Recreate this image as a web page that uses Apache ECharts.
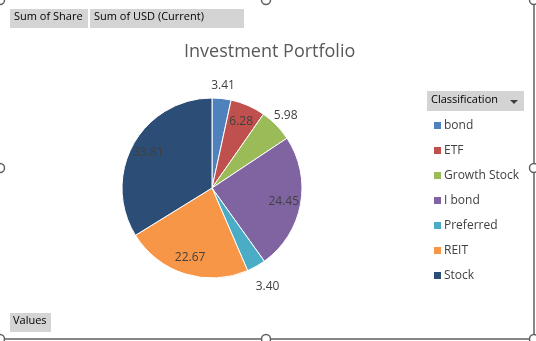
<!DOCTYPE html>
<html><head><meta charset="utf-8">
<script src="https://cdn.jsdelivr.net/npm/echarts@6/dist/echarts.min.js"></script>
<style>html,body{margin:0;padding:0;background:#fff}#c{width:536px;height:341px}</style>
</head><body><div id="c"></div>
<script>
const categories = ['bond','ETF','Growth Stock','I bond','Preferred','REIT','Stock'];
const shareValues = [3.41, 6.28, 5.98, 24.45, 3.40, 22.67, 33.81];
const colors = ['#4f81bd','#c0504d','#9bbb59','#8064a2','#4bacc6','#f79646','#2c4d75'];
const titleText = 'Investment Portfolio';
const legendTitle = 'Classification';
const fieldButtons = ['Sum of Share', 'Sum of USD (Current)'];
const valuesButton = 'Values';

const center = [212, 188];
const R = 90;
const font = '"Open Sans", sans-serif';

function labelPie(radius, showIdx) {
  return {
    type: 'pie', silent: true, center: center, radius: radius,
    startAngle: 90, avoidLabelOverlap: false, animation: false, z: 5,
    itemStyle: { color: 'rgba(0,0,0,0)', borderWidth: 0 },
    emphasis: { disabled: true },
    labelLine: { show: false },
    labelLayout: { hideOverlap: false },
    data: categories.map((n, i) => ({
      name: n, value: shareValues[i],
      label: { show: showIdx.includes(i) }
    })),
    label: {
      position: 'inside', color: '#404040', fontSize: 12, fontFamily: font,
      formatter: p => p.value.toFixed(2)
    }
  };
}

const chart = echarts.init(document.getElementById('c'), null, { renderer: 'canvas' });
const handle = (x, y) => ({ type: 'circle', shape: { cx: x, cy: y, r: 4.5 }, style: { fill: '#fff', stroke: '#606060', lineWidth: 1.5 }, z: 100 });
chart.setOption({
  animation: false,
  color: colors,
  title: {
    text: titleText, left: 179, top: 38,
    textStyle: { fontFamily: font, fontSize: 18, fontWeight: 'normal', color: '#595959' }
  },
  legend: {
    orient: 'vertical', left: 427, top: 112, itemGap: 8,
    itemWidth: 9, itemHeight: 9, icon: 'rect',
    selectedMode: false,
    textStyle: { fontFamily: font, fontSize: 12, color: '#404040', padding: [0, 0, 0, -3], lineHeight: 17 },
    data: categories
  },
  graphic: [
    { type: 'rect', shape: { x: 10, y: 9, width: 78, height: 19 }, style: { fill: '#d4d4d4' } },
    { type: 'text', x: 14, y: 11, style: { text: fieldButtons[0], font: '11px ' + font, fill: '#000' } },
    { type: 'rect', shape: { x: 90, y: 9, width: 154, height: 19 }, style: { fill: '#d4d4d4' } },
    { type: 'text', x: 94, y: 11, style: { text: fieldButtons[1], font: '11px ' + font, fill: '#000' } },
    { type: 'rect', shape: { x: 10, y: 313, width: 41, height: 19 }, style: { fill: '#d4d4d4' } },
    { type: 'text', x: 13, y: 315, style: { text: valuesButton, font: '11px ' + font, fill: '#000' } },
    { type: 'rect', shape: { x: 427, y: 91, width: 97, height: 20 }, style: { fill: '#d4d4d4' } },
    { type: 'text', x: 431, y: 94, style: { text: legendTitle, font: '11px ' + font, fill: '#000' } },
    { type: 'polygon', shape: { points: [[510, 100], [518, 100], [514, 104]] }, style: { fill: '#404040' } },
    { type: 'polyline', shape: { points: [[530, 0], [534, 4], [534, 335], [530, 339], [4, 339], [0, 335]] }, style: { stroke: '#606060', lineWidth: 1.5, fill: null } },
    handle(266, 0), handle(0, 168), handle(534, 168), handle(266, 339),
    handle(0, 339), handle(534, 339), handle(534, 0), handle(0, 0)
  ],
  series: [
    {
      type: 'pie', center: center, radius: R, startAngle: 90, clockwise: true,
      silent: true, label: { show: false }, labelLine: { show: false },
      itemStyle: { borderColor: '#fff', borderWidth: 1 },
      data: categories.map((n, i) => ({ name: n, value: shareValues[i] }))
    },
    labelPie(140, [1, 3, 5, 6]),
    labelPie(200, [0, 2]),
    labelPie(220, [4])
  ]
});
</script></body></html>
